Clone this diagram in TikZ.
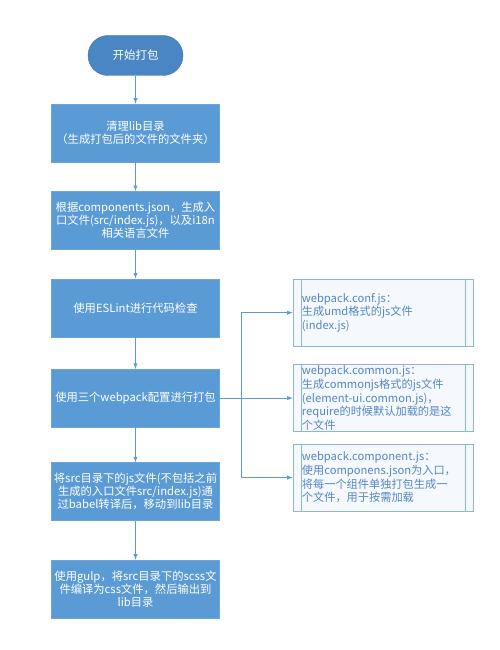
\documentclass[tikz,border=0pt]{standalone}
\usepackage{fontspec}
\setmainfont{Noto Sans CJK SC}
\usepackage{tikz}
\usetikzlibrary{arrows,positioning}
\definecolor{boxblue}{HTML}{5B9BD5}
\definecolor{startblue}{HTML}{4A86C4}
\definecolor{noteline}{HTML}{8DB3E2}
\definecolor{notefill}{HTML}{F5F8FC}
\definecolor{notetext}{HTML}{5587C4}
\tikzset{
    %Define standard arrow tip
    >=latex,
    %Define style for the start node
    startpunkt/.style={
           rectangle,
           rounded corners=20pt,
           fill=startblue,
           draw=startblue!85!black, thin,
           text=white,
           minimum width=95pt,
           minimum height=40pt,
           font=\fontsize{11.5}{13}\selectfont,
           text centered},
    %Define style for boxes
    punktrect/.style={
           rectangle,
           fill=boxblue,
           draw=boxblue!90!white, thin,
           text=white,
           minimum width=168pt,
           minimum height=58pt,
           inner sep=1pt,
           align=center,
           font=\fontsize{11.3}{12.8}\selectfont},
    %Define style for the side notes
    notiz/.style={
           rectangle,
           fill=notefill,
           draw=noteline, thin,
           text=notetext,
           minimum width=178pt,
           minimum height=67pt,
           text width=162pt,
           inner xsep=9pt,
           inner ysep=0pt,
           align=left,
           font=\fontsize{11.2}{13.6}\selectfont,
           path picture={
               \draw[noteline] ([xshift=8pt]path picture bounding box.north west) -- ([xshift=8pt]path picture bounding box.south west);
               \draw[noteline] ([xshift=-8pt]path picture bounding box.north east) -- ([xshift=-8pt]path picture bounding box.south east);}},
    % Define arrow style
    pil/.style={
           ->,
           draw=boxblue,
           line width=0.9pt}
}
\begin{document}
\begin{tikzpicture}[x=1pt,y=1pt]
\useasboundingbox (0,0) rectangle (500,-650);
 %nodes
\node[startpunkt] (0) at (135.5,-55.5) {开始打包};
\node[punktrect, below=28pt of 0] (1) {清理lib目录\\（生成打包后的文件的文件夹）};
\node[punktrect, below=29pt of 1] (2) {根据components.json，生成入\\口文件(src/index.js)，以及i18n\\相关语言文件};
\node[punktrect, below=29pt of 2] (3) {使用ESLint进行代码检查};
\node[punktrect, below=32pt of 3] (4) {使用三个webpack配置进行打包};
\node[punktrect, below=35pt of 4] (5) {将src目录下的js文件(不包括之前\\生成的入口文件src/index.js)通\\过babel转译后，移动到lib目录};
\node[punktrect, below=39pt of 5] (6) {使用gulp，将src目录下的scss文\\件编译为css文件，然后输出到\\lib目录};

\node[notiz, right=73pt of 4] (b) {webpack.common.js：\\生成commonjs格式的js文件\\(element-ui.common.js)，\\require的时候默认加载的是这\\个文件};
\node[notiz, above=18pt of b] (a) {webpack.conf.js：\\生成umd格式的js文件\\(index.js)};
\node[notiz, below=12pt of b] (c) {webpack.component.js：\\使用componens.json为入口，\\将每一个组件单独打包生成一\\个文件，用于按需加载};

 %connectors
\foreach \i/\j in {0/1,1/2,2/3,3/4,4/5,5/6}
    \draw[pil] (\i) -- (\j);
\draw[pil] (4.east) -- ++(22,0) |- (a.west);
\draw[pil] (4.east) -- (b.west);
\draw[pil] (4.east) -- ++(22,0) |- (c.west);
\end{tikzpicture}
\end{document}
